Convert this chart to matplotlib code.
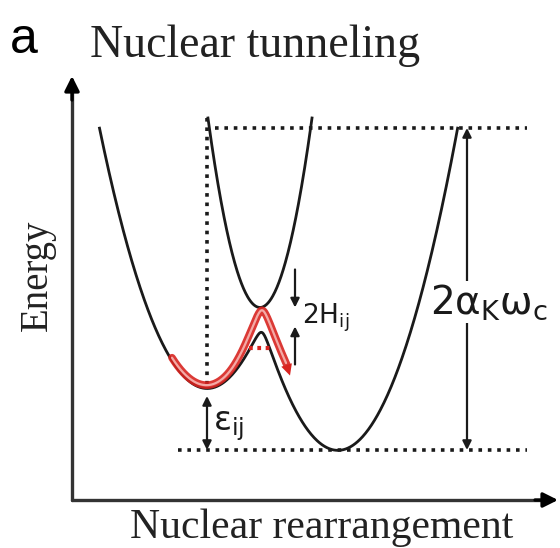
import matplotlib
matplotlib.use('Agg')
import matplotlib.pyplot as plt
import numpy as np

plt.rcParams['mathtext.fontset'] = 'dejavusans'

# diabatic wells (q = nuclear coordinate, E = energy, right well at E = 0)
q_left = 207.0        # left (initial) well minimum
eps_ij = 62.0         # energy offset between wells
q_right = 338.0       # right (final) well minimum
curv = 0.0225         # parabola curvature
H_ij = 12.5           # electronic coupling
lam = 322.0           # reorganisation energy, 2 alpha_K omega_c

# upper adiabatic branch drawn as a narrow parabola
upper_curv = 0.070
upper_top = lam + 10.0

# red thermal path lifted above the lower branch
red_q_range = (172.0, 290.0)
red_lift_base = 3.0
red_lift_rise = 25.0
red_lift_center = 250.0
red_lift_width = 10.0
E_tunnel = 102.0      # tunnelling level (red dotted)

RED = '#d8231f'
PINK = '#f4aaa6'
INK = '#1a1a1a'


def E_i(q):
    return curv * (q - q_left) ** 2 + eps_ij


def E_j(q):
    return curv * (q - q_right) ** 2


def lower(q):
    a, b = E_i(q), E_j(q)
    return 0.5 * (a + b) - np.sqrt(0.25 * (a - b) ** 2 + H_ij ** 2)


# crossing point of the diabatic curves
q_cross = (q_left + q_right) / 2 - eps_ij / (2 * curv * (q_right - q_left))
E_cross = E_j(q_cross)
E_barrier = lower(q_cross)
E_upmin = E_cross + H_ij
q_upmin = q_cross - 2

fig = plt.figure(figsize=(5.6, 5.48), dpi=100)
ax = fig.add_axes([0, 0, 1, 1])
ax.set_xlim(0, 560)
ax.set_ylim(-98, 450)
ax.axis('off')

# axes arrows
ax0x, ax0y = 72, -50
ax.plot([ax0x, ax0x], [ax0y, 360], color='#333333', lw=2.4, solid_capstyle='round')
ax.plot([ax0x, 545], [ax0y, ax0y], color='#333333', lw=2.4, solid_capstyle='round')
ax.annotate('', xy=(ax0x, 374), xytext=(ax0x, 350),
            arrowprops=dict(arrowstyle='-|>', color='black', lw=2.4, mutation_scale=22,
                            shrinkA=0, shrinkB=0))
ax.annotate('', xy=(558, ax0y), xytext=(535, ax0y),
            arrowprops=dict(arrowstyle='-|>', color='black', lw=2.4, mutation_scale=22,
                            shrinkA=0, shrinkB=0))

# lower adiabatic curve
q_start = q_left - np.sqrt((lam - eps_ij) / curv)
q_end = q_right + np.sqrt(lam / curv)
q = np.linspace(q_start, q_end, 600)
ax.plot(q, lower(q), color=INK, lw=2.0)

# upper adiabatic curve
half = np.sqrt((upper_top - E_upmin) / upper_curv)
qu = np.linspace(q_upmin - half, q_upmin + half, 200)
ax.plot(qu, E_upmin + upper_curv * (qu - q_upmin) ** 2, color=INK, lw=2.0)

# dotted guides
dot = (0, (1, 1.6))
ax.plot([q_left + 8, 527], [lam, lam], color=INK, lw=2.6, ls=dot)
ax.plot([178, 527], [0, 0], color=INK, lw=2.6, ls=dot)
ax.plot([q_left, q_left], [upper_top, eps_ij], color=INK, lw=2.6, ls=dot)

# red path over the barrier
qr = np.linspace(red_q_range[0], red_q_range[1], 300)
lift = red_lift_base + red_lift_rise / (1 + np.exp(-(qr - red_lift_center) / red_lift_width))
Er = lower(qr) + lift
ax.plot(qr[:-8], Er[:-8], color=RED, lw=5.5, alpha=0.9, solid_capstyle='round')
ax.plot(qr[:-10], Er[:-10], color=PINK, lw=1.6, solid_capstyle='round')
ax.annotate('', xy=(qr[-1], Er[-1] - 4), xytext=(qr[-12], Er[-12]),
            arrowprops=dict(arrowstyle='-|>', color=RED, lw=0, mutation_scale=20,
                            shrinkA=0, shrinkB=0))

# tunnelling level
qt_l = q_left + np.sqrt((E_tunnel - eps_ij) / curv)
qt_r = q_right - np.sqrt(E_tunnel / curv)
ax.plot([qt_l, qt_r + 3], [E_tunnel, E_tunnel], color=RED, lw=3.0,
        ls=(0, (0.9, 1.1)), zorder=5)

arw = dict(arrowstyle='-|>', color=INK, lw=1.6, mutation_scale=13, shrinkA=0, shrinkB=0)
arw2 = dict(arrowstyle='<|-|>', color=INK, lw=1.6, mutation_scale=13, shrinkA=0, shrinkB=0)

# 2H_ij arrows
x2h = 295
ax.annotate('', xy=(x2h, E_upmin), xytext=(x2h, E_upmin + 38), arrowprops=arw)
ax.annotate('', xy=(x2h, E_barrier + 6), xytext=(x2h, E_barrier - 32), arrowprops=arw)
ax.text(302, (E_upmin + E_barrier) / 2 + 2, r'$\mathregular{2H_{ij}}$', fontsize=19,
        family='DejaVu Sans', va='center', ha='left', color=INK)

# epsilon arrow
ax.annotate('', xy=(q_left, eps_ij - 8), xytext=(q_left, 0), arrowprops=arw2)
ax.text(213, 24, r'$\mathregular{\epsilon_{ij}}$', fontsize=24,
        family='DejaVu Sans', va='center', ha='left', color=INK)

# reorganisation arrow
xl = 467
ax.annotate('', xy=(xl, lam), xytext=(xl, 0), arrowprops=arw2)
ax.text(489, 148, r'$\mathregular{2\alpha_K\omega_c}$', fontsize=28, va='center', ha='center',
        color=INK, bbox=dict(facecolor='white', edgecolor='none', pad=1))

# labels
ax.text(10, 397, 'a', fontsize=36, family='Liberation Sans', va='baseline', ha='left')
ax.text(90, 393, 'Nuclear tunneling', fontsize=33, family='Liberation Serif',
        va='baseline', ha='left', color='#222222')
ax.text(37, 175, 'Energy', fontsize=28, family='Liberation Serif', rotation=90,
        va='center', ha='center', color='#222222')
ax.text(322, -88, 'Nuclear rearrangement', fontsize=30, family='Liberation Serif',
        va='baseline', ha='center', color='#222222')

fig.savefig('out.png', dpi=100)
